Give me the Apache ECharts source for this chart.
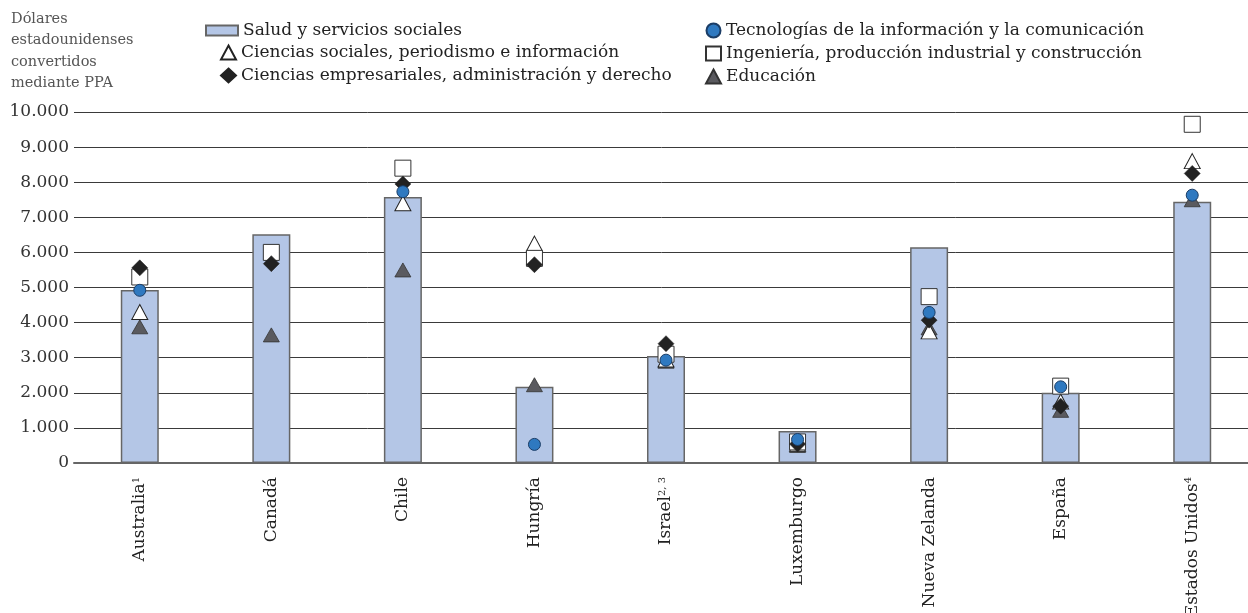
<!DOCTYPE html>
<html>
<head>
<meta charset="utf-8">
<script src="https://cdn.jsdelivr.net/npm/echarts@6/dist/echarts.min.js"></script>
<style>
  html, body { margin: 0; padding: 0; background: #fff; }
  #main { width: 1248px; height: 613px; }
</style>
</head>
<body>
<div id="main"></div>
<script>
var countries = ['Australia', 'Canadá', 'Chile', 'Hungría', 'Israel', 'Luxemburgo', 'Nueva Zelanda', 'España', 'Estados Unidos'];
var countryNotes = ['1', '', '', '', '2, 3', '', '', '', '4'];

var salud = [4930, 6520, 7580, 2170, 3050, 910, 6150, 2000, 7440];
var tic = [4920, '-', 7730, 530, 2930, 670, 4290, 2170, 7630];
var sociales = [4300, '-', 7400, 6250, 2950, 550, 3750, 1750, 8600];
var ingenieria = [5300, 6000, 8400, 5830, 3100, 600, 4740, 2190, 9650];
var empresariales = [5560, 5680, 7950, 5650, 3400, 540, 4070, 1620, 8250];
var educacion = [3880, 3650, 5500, 2230, 2900, 500, 3850, 1500, 7500];

var yTicks = [0, 10000, 1000];

var font = 'DejaVu Serif';
var chart = echarts.init(document.getElementById('main'));

function fmt(v) {
  return String(v).replace(/\B(?=(\d{3})+(?!\d))/g, '.');
}

var legendText = { fontFamily: font, fontSize: 17, lineHeight: 17, color: '#222' };

var option = {
  animation: false,
  title: {
    text: 'Dólares\nestadounidenses\nconvertidos\nmediante PPA',
    left: 11,
    top: 8,
    padding: 0,
    textStyle: { fontFamily: font, fontSize: 14.5, fontWeight: 'normal', color: '#555', lineHeight: 21.5 }
  },
  legend: [
    {
      data: [{ name: 'Salud y servicios sociales', icon: 'rect' }],
      left: 205, top: 22, padding: 0, itemWidth: 32, itemHeight: 10, itemGap: 6,
      textStyle: legendText
    },
    {
      data: ['Ciencias sociales, periodismo e información', 'Ciencias empresariales, administración y derecho'],
      orient: 'vertical', left: 220, top: 44, padding: 0, itemWidth: 15, itemHeight: 14, itemGap: 6,
      textStyle: legendText
    },
    {
      data: ['Tecnologías de la información y la comunicación', 'Ingeniería, producción industrial y construcción', 'Educación'],
      orient: 'vertical', left: 705, top: 22, padding: 0, itemWidth: 15, itemHeight: 14, itemGap: 6,
      textStyle: legendText
    }
  ],
  grid: { left: 74, top: 112, width: 1184, height: 351, outerBoundsMode: 'none' },
  xAxis: {
    type: 'category',
    data: countries,
    axisTick: { show: false },
    axisLine: { lineStyle: { color: '#666', width: 2 } },
    axisLabel: {
      rotate: 90,
      margin: 14,
      interval: 0,
      formatter: function (v, i) {
        var s = '{a|' + v + '}';
        if (countryNotes[i]) s += '{sup|' + countryNotes[i] + '}';
        return s;
      },
      rich: {
        a: { fontFamily: font, fontSize: 17, color: '#222' },
        sup: { fontFamily: font, fontSize: 10, color: '#222', verticalAlign: 'top' }
      }
    },
    z: 5
  },
  yAxis: {
    type: 'value',
    min: yTicks[0],
    max: yTicks[1],
    interval: yTicks[2],
    axisLine: { show: false },
    axisTick: { show: false },
    axisLabel: {
      margin: 5,
      fontFamily: font, fontSize: 17, color: '#333',
      formatter: fmt
    },
    splitLine: { lineStyle: { color: '#3a3a3a', width: 1 } }
  },
  series: [
    {
      name: 'Salud y servicios sociales',
      type: 'bar',
      barWidth: 38,
      data: salud,
      itemStyle: { color: '#b4c6e6', borderColor: '#666', borderWidth: 1.5 },
      z: 2
    },
    {
      name: 'Educación',
      type: 'scatter',
      symbol: 'triangle',
      symbolSize: [16, 14],
      data: educacion,
      itemStyle: { color: '#5a5a5f', borderColor: '#333', borderWidth: 0.8, opacity: 1 },
      z: 3
    },
    {
      name: 'Ciencias sociales, periodismo e información',
      type: 'scatter',
      symbol: 'triangle',
      symbolSize: [16, 15],
      data: sociales,
      itemStyle: { color: '#fff', borderColor: '#222', borderWidth: 1, opacity: 1 },
      z: 4
    },
    {
      name: 'Ingeniería, producción industrial y construcción',
      type: 'scatter',
      symbol: 'rect',
      symbolSize: 16,
      data: ingenieria,
      itemStyle: { color: '#fff', borderColor: '#333', borderWidth: 1, opacity: 1 },
      z: 5
    },
    {
      name: 'Ciencias empresariales, administración y derecho',
      type: 'scatter',
      symbol: 'diamond',
      symbolSize: 16,
      data: empresariales,
      itemStyle: { color: '#222', borderColor: '#222', borderWidth: 0.5, opacity: 1 },
      z: 6
    },
    {
      name: 'Tecnologías de la información y la comunicación',
      type: 'scatter',
      symbol: 'circle',
      symbolSize: 12,
      data: tic,
      itemStyle: { color: '#2f79c0', borderColor: '#1b3d66', borderWidth: 1, opacity: 1 },
      z: 7
    }
  ]
};

chart.setOption(option);
</script>
</body>
</html>
